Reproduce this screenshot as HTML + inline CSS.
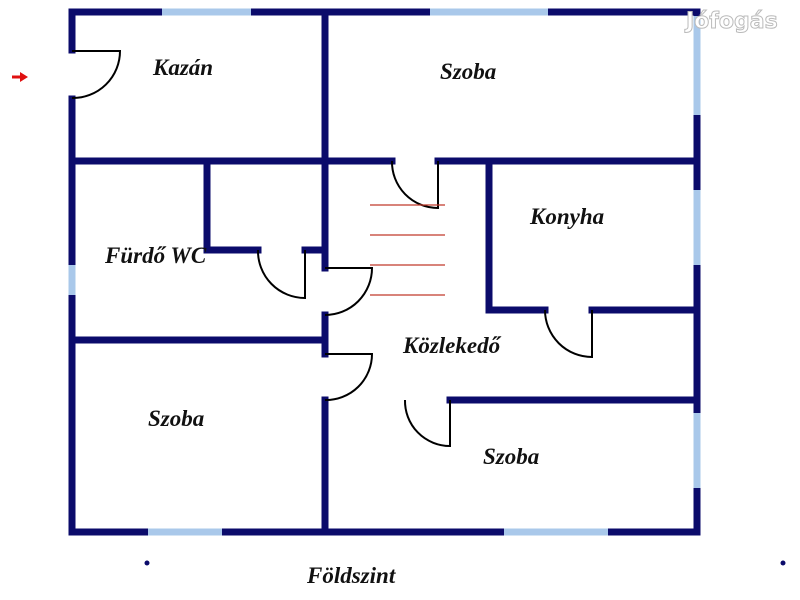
<!DOCTYPE html>
<html><head><style>html,body{margin:0;padding:0;background:#fff}svg{display:block}
.t{font-family:"Liberation Serif",serif;font-style:italic;font-weight:bold;font-size:23px;fill:#111}</style></head>
<body>
<svg width="800" height="600" viewBox="0 0 800 600" xmlns="http://www.w3.org/2000/svg">
<g stroke="#0b0b6b" stroke-width="7" fill="none" stroke-linecap="square">
<path d="M72 12 H697 V532 H72 V99"/>
<path d="M72 12 V50"/>
<path d="M325 12 V268 M325 315 V354 M325 400 V532"/>
<path d="M72 161 H392 M438 161 H697"/>
<path d="M207 161 V250 H258 M305 250 H325"/>
<path d="M72 340 H325"/>
<path d="M450 400 H697"/>
<path d="M489 161 V310 H545 M592 310 H697"/>
</g>
<g stroke="#a9c8ea" stroke-width="7">
<path d="M162 12 H251 M430 12 H548"/>
<path d="M697 16 V115 M697 190 V265 M697 413 V488"/>
<path d="M72 265 V295"/>
<path d="M148 532 H222 M504 532 H608"/>
</g>
<g stroke="#000" stroke-width="2" fill="none">
<path d="M72 51 H120 A47 47 0 0 1 72 98"/>
<path d="M392 161 A46 46 0 0 0 438 208 V161"/>
<path d="M258 250 A47 47 0 0 0 305 298 V250"/>
<path d="M325 268 H372 A47 47 0 0 1 325 315"/>
<path d="M325 354 H372 A46 46 0 0 1 325 400"/>
<path d="M405 400 A45 45 0 0 0 450 446 V400"/>
<path d="M545 310 A47 47 0 0 0 592 357 V310"/>
</g>
<g stroke="#c0392b" stroke-width="1.2">
<path d="M370 205 H445 M370 235 H445 M370 265 H445 M370 295 H445"/>
</g>
<path d="M12 77 H22" stroke="#e01010" stroke-width="3"/>
<path d="M20 72 L28 77 L20 82 Z" fill="#e01010"/>
<circle cx="147" cy="563" r="2.5" fill="#0b0b6b"/>
<circle cx="783" cy="563" r="2.5" fill="#0b0b6b"/>
<g class="t" font-style="italic">
<text x="153" y="75">Kazán</text>
<text x="440" y="79">Szoba</text>
<text x="105" y="263">Fürdő WC</text>
<text x="530" y="224">Konyha</text>
<text x="403" y="353">Közlekedő</text>
<text x="148" y="426">Szoba</text>
<text x="483" y="464">Szoba</text>
<text x="307" y="583">Földszint</text>
</g>
<text x="686" y="28" style="font-family:'DejaVu Sans',sans-serif;font-weight:bold;font-size:22px;fill:#fff;stroke:#bbb;stroke-width:1">Jófogás</text>
</svg>
</body></html>
